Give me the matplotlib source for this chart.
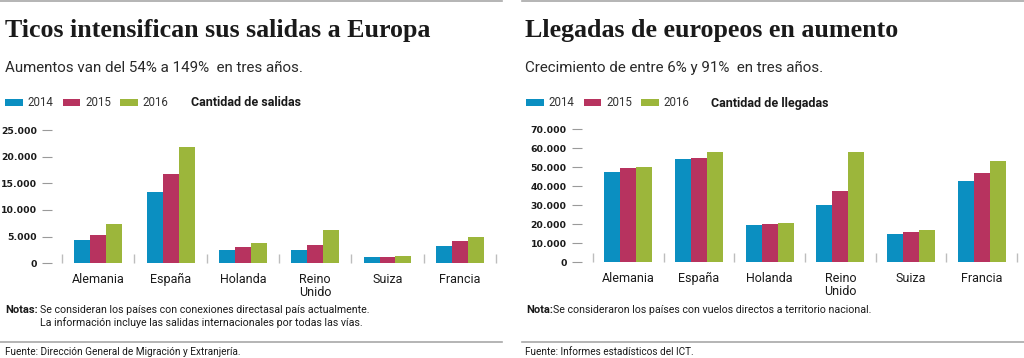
import numpy as np
import matplotlib.pyplot as plt
from matplotlib.lines import Line2D
from matplotlib.ticker import FuncFormatter, FixedLocator

W, H = 1024, 358

paises = ['Alemania', 'España', 'Holanda', 'Reino\nUnido', 'Suiza', 'Francia']
anios = ['2014', '2015', '2016']
colores = ['#0b8fc1', '#b7335f', '#9cb63b']

# salidas de ticos hacia Europa
salidas_2014 = [4300, 13400, 2500, 2500, 1100, 3250]
salidas_2015 = [5300, 16800, 3000, 3400, 1250, 4250]
salidas_2016 = [7400, 21800, 3900, 6300, 1450, 5000]
ticks_salidas = [0, 5000, 10000, 15000, 20000, 25000]

# llegadas de europeos
llegadas_2014 = [47200, 54000, 19400, 30100, 14700, 42700]
llegadas_2015 = [49500, 54800, 20300, 37300, 15900, 46700]
llegadas_2016 = [50200, 57700, 20800, 58100, 16800, 53200]
ticks_llegadas = [0, 10000, 20000, 30000, 40000, 50000, 60000, 70000]

SANS = 'Roboto'
GRIS = '#9a9a9a'
TEXTO = '#1a1a1a'

fig = plt.figure(figsize=(W / 100, H / 100), dpi=100)
fig.patch.set_facecolor('white')


def fx(x):
    return x / W


def fy(y):
    return 1 - y / H


def miles(v, pos):
    return f'{int(v):,}'.replace(',', '.')


def grafico(x0, x1, ybase, ytop, series, yticks, outward):
    ax = fig.add_axes([fx(x0), fy(ybase), fx(x1 - x0), (ybase - ytop) / H])
    x = np.arange(len(paises))
    ancho = 16 / ((x1 - x0) / len(paises))
    barras = []
    for i, (vals, col) in enumerate(zip(series, colores)):
        b = ax.bar(x + (i - 1) * ancho, vals, ancho, color=col, label=anios[i])
        barras.append(b)
    ax.set_xlim(-0.5, len(paises) - 0.5)
    ax.set_ylim(0, yticks[-1])
    for s in ax.spines.values():
        s.set_visible(False)
    ax.spines['left'].set_position(('outward', outward))
    ax.set_yticks(yticks)
    ax.yaxis.set_major_formatter(FuncFormatter(miles))
    ax.tick_params(axis='y', length=7.5, width=0.8, color=GRIS, pad=3.5,
                   labelsize=6.7, labelcolor=TEXTO)
    for t in ax.get_yticklabels():
        t.set_fontweight('bold')
        t.set_family('DejaVu Sans')
    ax.set_xticks(x)
    ax.set_xticklabels(paises, family=SANS, fontsize=9, color=TEXTO, linespacing=0.95)
    ax.xaxis.set_minor_locator(FixedLocator(np.arange(-0.5, len(paises), 1)))
    ax.tick_params(axis='x', which='major', length=0, pad=7)
    ax.tick_params(axis='x', which='minor', direction='in', length=6.5,
                   width=1, color='#bdbdbd')
    return ax, barras


ax1, b1 = grafico(62, 496, 263.3, 130, [salidas_2014, salidas_2015, salidas_2016],
                  ticks_salidas, 7)
ax2, b2 = grafico(593, 1017, 262.3, 129, [llegadas_2014, llegadas_2015, llegadas_2016],
                  ticks_llegadas, 8)

for ax, bars, x0 in [(ax1, b1, 5), (ax2, b2, 526)]:
    fig.legend(handles=bars, labels=anios, loc='center left',
               bbox_to_anchor=(fx(x0), fy(103)), ncol=3, frameon=False,
               prop={'family': SANS, 'size': 8.3}, handlelength=1.55, handleheight=0.65,
               handletextpad=0.4, columnspacing=0.8, borderpad=0, borderaxespad=0,
               labelcolor='#333333')

# titulos y textos
fig.text(fx(5), fy(30), 'Ticos intensifican sus salidas a Europa', family='Liberation Serif',
         fontweight='bold', fontsize=18.7, color=TEXTO, va='center')
fig.text(fx(525), fy(30), 'Llegadas de europeos en aumento', family='Liberation Serif',
         fontweight='bold', fontsize=18.7, color=TEXTO, va='center')
fig.text(fx(5), fy(68), 'Aumentos van del 54% a 149%  en tres años.', family=SANS,
         fontsize=10.9, color='#2a2a2a', va='center')
fig.text(fx(525), fy(68), 'Crecimiento de entre 6% y 91%  en tres años.', family=SANS,
         fontsize=10.9, color='#2a2a2a', va='center')
fig.text(fx(191), fy(103), 'Cantidad de salidas', family=SANS, fontweight='bold',
         fontsize=9, color=TEXTO, va='center')
fig.text(fx(711), fy(103), 'Cantidad de llegadas', family=SANS, fontweight='bold',
         fontsize=9, color=TEXTO, va='center')

fig.text(fx(5), fy(310), 'Notas:', family=SANS, fontweight='bold', fontsize=8,
         color=TEXTO, va='center')
fig.text(fx(40), fy(310), 'Se consideran los países con conexiones directasal país actualmente.',
         family=SANS, fontsize=7.7, color=TEXTO, va='center')
fig.text(fx(40), fy(323), 'La información incluye las salidas internacionales por todas las vías.',
         family=SANS, fontsize=7.7, color=TEXTO, va='center')
fig.text(fx(526), fy(310), 'Nota:', family=SANS, fontweight='bold', fontsize=8,
         color=TEXTO, va='center')
fig.text(fx(553), fy(310), 'Se consideraron los países con vuelos directos a territorio nacional.',
         family=SANS, fontsize=7.7, color=TEXTO, va='center')

fig.text(fx(5), fy(352), 'Fuente: Dirección General de Migración y Extranjería.', family=SANS,
         fontsize=7.2, color=TEXTO, va='center')
fig.text(fx(525), fy(352), 'Fuente: Informes estadísticos del ICT.', family=SANS,
         fontsize=7.2, color=TEXTO, va='center')

# lineas separadoras
for y in [1, 342]:
    fig.add_artist(Line2D([fx(0), fx(502)], [fy(y), fy(y)], color='#a8a8a8', lw=1.2))
    fig.add_artist(Line2D([fx(522), fx(1024)], [fy(y), fy(y)], color='#a8a8a8', lw=1.2))

fig.savefig('out.png', dpi=100)
